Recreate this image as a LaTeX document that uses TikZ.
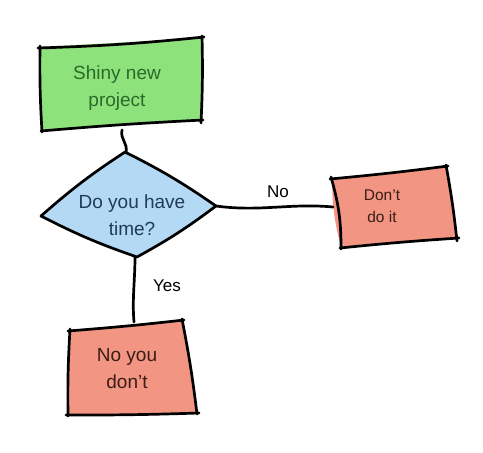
\documentclass[tikz,border=0pt]{standalone}
\usepackage{fontspec}
\setmainfont{Liberation Sans}
\definecolor{gfill}{HTML}{8EE27C}
\definecolor{bfill}{HTML}{B3D9F5}
\definecolor{rfill}{HTML}{F29583}
\definecolor{gtext}{HTML}{2A6B2A}
\definecolor{btext}{HTML}{1F3C5A}
\definecolor{rtext}{HTML}{3A1D14}
\begin{document}
\begin{tikzpicture}[x=1pt,y=-1pt,
  sketch/.style={line width=2.7pt, line join=round, line cap=round, black},
  txt/.style={align=center, inner sep=0pt},
  big/.style={txt, font=\fontsize{19}{27}\selectfont},
  small/.style={txt, font=\fontsize{15.5}{22}\selectfont},
  edgelbl/.style={inner sep=0pt, font=\fontsize{17}{20}\selectfont}]
\useasboundingbox[fill=white] (0,0) rectangle (483,453);

% fills
\fill[gfill] (40,47) -- (202,38) -- (201,121) -- (42,130) -- cycle;
\fill[bfill] (125,152) to[bend left=4] (216,206) to[bend left=4] (137,257) to[bend left=4] (41,216) to[bend left=4] (125,152);
\fill[rfill] (332,178) -- (447,167) -- (457,239) -- (341,247) to[bend left=7] (332,178);
\fill[rfill] (70,330) -- (182,320) -- (197,413) -- (68,415) -- cycle;

% green box outline
\draw[sketch] (38,48) to[bend right=2] (204,37);
\draw[sketch] (202,36) to[bend left=2] (201,123);
\draw[sketch] (41,131) to[bend left=1] (203,120);
\draw[sketch] (40,46) to[bend right=2] (42,132);

% diamond outline
\draw[sketch] (125,152) to[bend left=4] (216,206) to[bend left=4] (137,257) to[bend left=4] (41,216) to[bend left=4] (125,152);

% right red box outline
\draw[sketch] (330,179) to[bend right=1] (448,166);
\draw[sketch] (446,165) to[bend left=2] (457,241);
\draw[sketch] (340,248) to[bend left=1] (459,238);
\draw[sketch] (331,177) to[bend left=8] (341,249);

% bottom red box outline
\draw[sketch] (68,331) to[bend right=1] (184,320);
\draw[sketch] (182,319) to[bend left=2] (197,414);
\draw[sketch] (66,415) to[bend right=1] (199,413);
\draw[sketch] (70,329) to[bend right=2] (68,416);

% text nodes
\node[big, text=gtext] (start) at (117,88) {Shiny new\\project};
\node[big, text=btext] (decide) at (132,215) {Do you have\\time?};
\node[small, text=rtext] (dont) at (382,206) {Don’t\\do it};
\node[big, text=rtext] (nope) at (127,369) {No you\\don’t};

% connector endpoints on sketched shapes
\coordinate (start-s) at (122,130);
\coordinate (decide-n) at (126,153);
\coordinate (decide-e) at (216,206);
\coordinate (dont-w) at (333,207);
\coordinate (decide-s) at (135,257);
\coordinate (nope-n) at (134,322);

\draw[sketch] (start-s) .. controls (120,140) and (128,142) .. (decide-n);
\draw[sketch] (decide-e) .. controls (260,212) and (290,203) .. (dont-w);
\draw[sketch] (decide-s) .. controls (135,280) and (132,300) .. (nope-n);

\node[edgelbl] (nolbl) at (278,192) {No};
\node[edgelbl] (yeslbl) at (167,286) {Yes};
\end{tikzpicture}
\end{document}
